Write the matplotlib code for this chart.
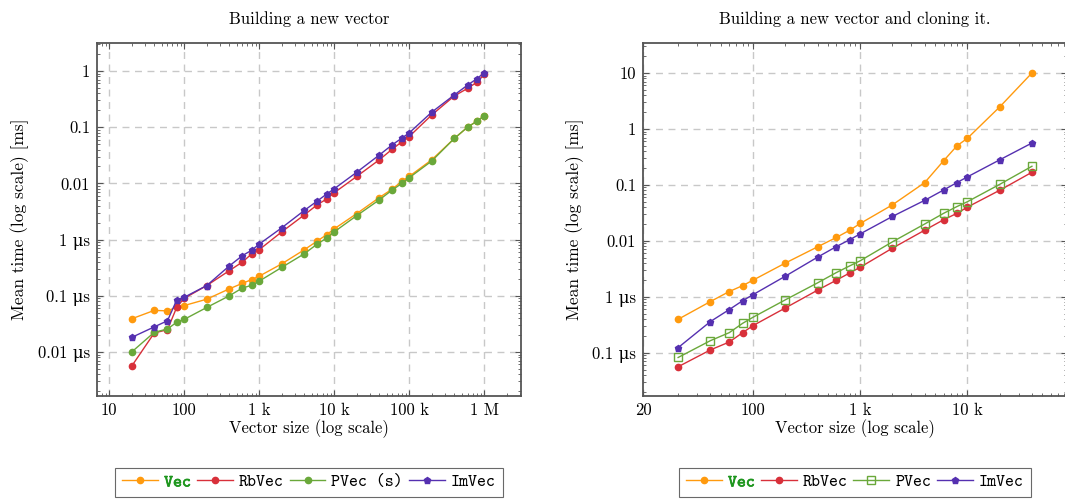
import numpy as np
import matplotlib
matplotlib.use("Agg")
import matplotlib.pyplot as plt
import matplotlib.patheffects as pe
from matplotlib.ticker import LogLocator, FixedLocator, FixedFormatter, NullFormatter

plt.rcParams['font.family'] = ['cmr10', 'DejaVu Serif']
plt.rcParams['axes.formatter.use_mathtext'] = True
plt.rcParams['font.size'] = 12

# vector sizes
sizes_left = [20, 40, 60, 80, 100, 200, 400, 600, 800, 1000, 2000, 4000, 6000, 8000,
              10000, 20000, 40000, 60000, 80000, 100000, 200000, 400000, 600000, 800000, 1000000]
sizes_right = [20, 40, 60, 80, 100, 200, 400, 600, 800, 1000, 2000, 4000, 6000, 8000,
               10000, 20000, 40000]

# mean times in ms, "Building a new vector"
vec_new = [3.9e-5, 5.5e-5, 5.4e-5, 6.3e-5, 6.7e-5, 8.7e-5, 1.33e-4, 1.67e-4, 1.95e-4, 2.23e-4,
           3.7e-4, 6.6e-4, 9.5e-4, 1.23e-3, 1.55e-3, 2.9e-3, 5.6e-3, 8.0e-3, 1.09e-2, 1.33e-2,
           2.63e-2, 6.3e-2, 0.1, 0.128, 0.159]
rbvec_new = [5.6e-6, 2.18e-5, 2.5e-5, 6.3e-5, 9.0e-5, 1.52e-4, 2.8e-4, 4.0e-4, 5.6e-4, 6.6e-4,
             1.37e-3, 2.75e-3, 4.2e-3, 5.3e-3, 6.8e-3, 1.33e-2, 2.63e-2, 4.1e-2, 5.5e-2, 6.8e-2,
             0.165, 0.36, 0.49, 0.63, 0.87]
pvec_s_new = [1.0e-5, 2.24e-5, 2.57e-5, 3.4e-5, 3.8e-5, 6.2e-5, 1.0e-4, 1.38e-4, 1.54e-4, 1.82e-4,
              3.2e-4, 5.6e-4, 8.4e-4, 1.07e-3, 1.37e-3, 2.67e-3, 5.1e-3, 7.7e-3, 1.0e-2, 1.26e-2,
              2.5e-2, 6.3e-2, 0.1, 0.128, 0.159]
imvec_new = [1.82e-5, 2.8e-5, 3.6e-5, 8.5e-5, 9.4e-5, 1.52e-4, 3.4e-4, 5.2e-4, 6.5e-4, 8.3e-4,
             1.62e-3, 3.3e-3, 4.9e-3, 6.5e-3, 8.0e-3, 1.58e-2, 3.2e-2, 4.9e-2, 6.4e-2, 7.9e-2,
             0.185, 0.375, 0.56, 0.73, 0.93]

# mean times in ms, "Building a new vector and cloning it."
vec_clone = [3.95e-4, 8.2e-4, 1.24e-3, 1.58e-3, 1.98e-3, 4.0e-3, 7.8e-3, 1.15e-2, 1.55e-2, 2.04e-2,
             4.4e-2, 0.11, 0.27, 0.50, 0.68, 2.47, 10.0]
rbvec_clone = [5.6e-5, 1.12e-4, 1.55e-4, 2.28e-4, 3.05e-4, 6.3e-4, 1.31e-3, 1.98e-3, 2.67e-3, 3.37e-3,
               7.4e-3, 1.55e-2, 2.38e-2, 3.1e-2, 4.0e-2, 8.0e-2, 0.168]
pvec_clone = [8.2e-5, 1.64e-4, 2.28e-4, 3.35e-4, 4.3e-4, 8.8e-4, 1.77e-3, 2.71e-3, 3.57e-3, 4.4e-3,
              9.6e-3, 2.0e-2, 3.1e-2, 4.1e-2, 5.0e-2, 0.102, 0.215]
imvec_clone = [1.23e-4, 3.6e-4, 5.9e-4, 8.5e-4, 1.09e-3, 2.33e-3, 5.1e-3, 7.9e-3, 1.05e-2, 1.33e-2,
               2.73e-2, 5.3e-2, 8.1e-2, 0.11, 0.139, 0.28, 0.56]

left_yticks = [1, 0.1, 0.01, 1e-3, 1e-4, 1e-5]
left_ylabels = ['1', '0.1', '0.01', '1 \u03bcs', '0.1 \u03bcs', '0.01 \u03bcs']
right_yticks = [10, 1, 0.1, 0.01, 1e-3, 1e-4]
right_ylabels = ['10', '1', '0.1', '0.01', '1 \u03bcs', '0.1 \u03bcs']
left_xticks = [10, 100, 1000, 10000, 100000, 1000000]
left_xlabels = ['10', '100', '1 k', '10 k', '100 k', '1 M']
right_xticks = [9.4, 100, 1000, 10000]
right_xlabels = ['20', '100', '1 k', '10 k']

ORANGE = '#ff9a0e'
RED = '#d8303a'
GREEN = '#6aa83a'
PURPLE = '#5530b0'

W, H = 1065, 501
fig = plt.figure(figsize=(W / 100, H / 100), dpi=100)
ax1 = fig.add_axes([97 / W, 1 - 396 / H, (521 - 97) / W, 353 / H])
ax2 = fig.add_axes([643 / W, 1 - 396 / H, (1067 - 643) / W, 353 / H])


def style_axes(ax, xticks, xlabels, yticks, ylabels, title):
    ax.set_xscale('log')
    ax.set_yscale('log')
    ax.xaxis.set_major_locator(FixedLocator(xticks))
    ax.xaxis.set_major_formatter(FixedFormatter(xlabels))
    ax.yaxis.set_major_locator(FixedLocator(yticks))
    ax.yaxis.set_major_formatter(FixedFormatter(ylabels))
    ax.xaxis.set_minor_locator(LogLocator(base=10, subs=np.arange(2, 10), numticks=30))
    ax.yaxis.set_minor_locator(LogLocator(base=10, subs=np.arange(2, 10), numticks=30))
    ax.xaxis.set_minor_formatter(NullFormatter())
    ax.yaxis.set_minor_formatter(NullFormatter())
    ax.tick_params(which='both', direction='in', top=True, right=True, color='#555555')
    ax.tick_params(which='major', length=4.5, width=0.8, labelsize=12, pad=5)
    ax.tick_params(which='minor', length=2.5, width=0.6)
    ax.grid(True, which='major', color='#c8c8c8', linestyle=(0, (5, 4)), linewidth=1)
    for sp in ax.spines.values():
        sp.set_color('#555555')
        sp.set_linewidth(1.3)
    ax.set_title(title, fontsize=12, pad=14)
    ax.set_xlabel('Vector size (log scale)', fontsize=12, labelpad=1)
    ax.set_ylabel('Mean time (log scale) [ms]', fontsize=12.5, labelpad=6)


def add_legend(ax, labels):
    leg = ax.legend(labels=labels, loc='center', bbox_to_anchor=(0.5, -0.245), ncol=4,
                    frameon=True, fancybox=False, edgecolor='#444444', handlelength=2.1,
                    handletextpad=0.35, columnspacing=0.35, borderpad=0.4,
                    prop={'family': ['cmtt10', 'DejaVu Sans Mono'], 'size': 12.3})
    leg.get_frame().set_linewidth(0.8)
    vec_text = leg.get_texts()[0]
    vec_text.set_color('#1e961e')
    vec_text.set_path_effects([pe.withStroke(linewidth=0.5, foreground='#1e961e')])
    return leg


# left plot
ax1.plot(sizes_left, vec_new, color=ORANGE, marker='o', markersize=4.5, lw=1)
ax1.plot(sizes_left, rbvec_new, color=RED, marker='o', markersize=4.5, lw=1)
ax1.plot(sizes_left, pvec_s_new, color=GREEN, marker='o', markersize=4.5, lw=1)
ax1.plot(sizes_left, imvec_new, color=PURPLE, marker='p', markersize=4.5, lw=1)
ax1.set_xlim(6.9, 3.1e6)
ax1.set_ylim(1.65e-6, 3.15)
style_axes(ax1, left_xticks, left_xlabels, left_yticks, left_ylabels, 'Building a new vector')
add_legend(ax1, ['Vec', 'RbVec', 'PVec (s)', 'ImVec'])

# right plot
ax2.plot(sizes_right, vec_clone, color=ORANGE, marker='o', markersize=4.5, lw=1)
ax2.plot(sizes_right, rbvec_clone, color=RED, marker='o', markersize=4.5, lw=1)
ax2.plot(sizes_right, pvec_clone, color=GREEN, marker='s', markersize=6, lw=1,
         markerfacecolor='none', markeredgewidth=1)
ax2.plot(sizes_right, imvec_clone, color=PURPLE, marker='p', markersize=4.5, lw=1)
ax2.set_xlim(9.4, 8.5e4)
ax2.set_ylim(1.68e-5, 34.4)
style_axes(ax2, right_xticks, right_xlabels, right_yticks, right_ylabels,
           'Building a new vector and cloning it.')
add_legend(ax2, ['Vec', 'RbVec', 'PVec', 'ImVec'])

fig.savefig('out.png', dpi=100)
